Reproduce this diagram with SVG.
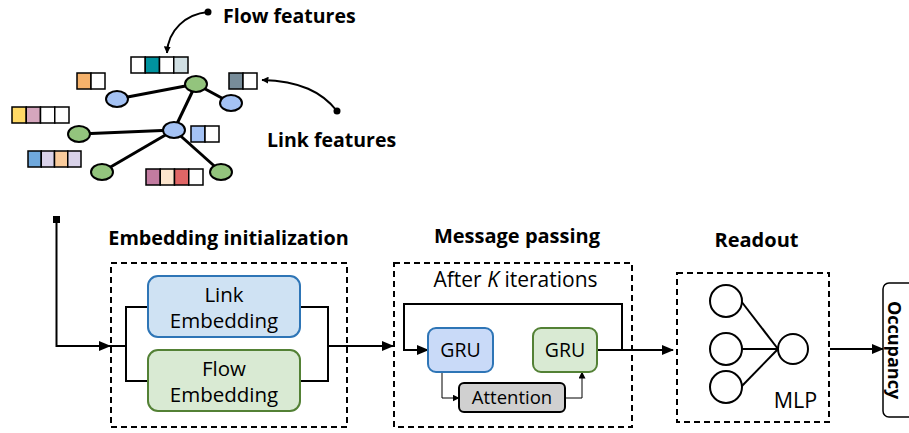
<svg xmlns="http://www.w3.org/2000/svg" width="909" height="433" viewBox="0 0 909 433">
  <style>
    .t { font-family: "Open Sans", "Liberation Sans", sans-serif; fill: #000; }
    .b { font-weight: bold; }
    .cell { stroke: #000; stroke-width: 1.5; }
    .edge { stroke: #000; stroke-width: 3; fill: none; }
    .ng { fill: #93c47d; stroke: #000; stroke-width: 2; }
    .nb { fill: #a4c2f4; stroke: #000; stroke-width: 2; }
    .wire { stroke: #000; stroke-width: 2; fill: none; }
    .thin { stroke: #000; stroke-width: 1; fill: none; }
    .dash { fill: none; stroke: #000; stroke-width: 2; stroke-dasharray: 6 4; }
    .circ { fill: #fff; stroke: #000; stroke-width: 2; }
  </style>
  <defs>
    <marker id="arr" markerWidth="12" markerHeight="10" refX="11" refY="5" orient="auto" markerUnits="userSpaceOnUse">
      <path d="M0,0 L12,5 L0,10 Z" fill="#000"/>
    </marker>
    <marker id="arrS" markerWidth="7" markerHeight="7" refX="6.5" refY="3.5" orient="auto" markerUnits="userSpaceOnUse">
      <path d="M0,0 L7,3.5 L0,7 Z" fill="#000"/>
    </marker>
  </defs>
  <rect width="909" height="433" fill="#fff"/>

  <!-- feature graph -->
  <g id="graph">
    <g id="graph-edges">
      <line class="edge" x1="196" y1="84" x2="117" y2="99"/>
      <line class="edge" x1="196" y1="84" x2="231" y2="103"/>
      <line class="edge" x1="196" y1="84" x2="174" y2="130"/>
      <line class="edge" x1="174" y1="130" x2="79" y2="134"/>
      <line class="edge" x1="174" y1="130" x2="102" y2="172"/>
      <line class="edge" x1="174" y1="130" x2="221" y2="172"/>
    </g>
    <ellipse class="ng" cx="196" cy="84" rx="11" ry="8"/>
    <ellipse class="nb" cx="117" cy="99" rx="11" ry="8"/>
    <ellipse class="nb" cx="231" cy="103" rx="11" ry="8"/>
    <ellipse class="nb" cx="174" cy="130" rx="11" ry="8"/>
    <ellipse class="ng" cx="79" cy="134" rx="11" ry="8"/>
    <ellipse class="ng" cx="102" cy="172" rx="11" ry="8"/>
    <ellipse class="ng" cx="221" cy="172" rx="11" ry="8"/>

    <!-- feature vectors -->
    <g id="vec-flow-top">
      <rect class="cell" x="131" y="57" width="14.25" height="16" fill="#fff"/>
      <rect class="cell" x="145.25" y="57" width="14.25" height="16" fill="#00939f"/>
      <rect class="cell" x="159.5" y="57" width="14.25" height="16" fill="#fff"/>
      <rect class="cell" x="173.75" y="57" width="14.25" height="16" fill="#d0dfe3"/>
    </g>
    <g id="vec-orange">
      <rect class="cell" x="77" y="73" width="14" height="16" fill="#f6b26b"/>
      <rect class="cell" x="91" y="73" width="14" height="16" fill="#fff"/>
    </g>
    <g id="vec-link-top">
      <rect class="cell" x="229" y="73" width="14" height="16" fill="#778c99"/>
      <rect class="cell" x="243" y="73" width="14" height="16" fill="#fff"/>
    </g>
    <g id="vec-yellow">
      <rect class="cell" x="12" y="107" width="14.25" height="16" fill="#ffd966"/>
      <rect class="cell" x="26.25" y="107" width="14.25" height="16" fill="#d5a6bd"/>
      <rect class="cell" x="40.5" y="107" width="14.25" height="16" fill="#fff"/>
      <rect class="cell" x="54.75" y="107" width="14.25" height="16" fill="#fff"/>
    </g>
    <g id="vec-blue">
      <rect class="cell" x="191" y="126" width="14" height="16" fill="#a4c2f4"/>
      <rect class="cell" x="205" y="126" width="14" height="16" fill="#fff"/>
    </g>
    <g id="vec-lavender">
      <rect class="cell" x="28" y="151" width="13.25" height="16" fill="#6fa8dc"/>
      <rect class="cell" x="41.25" y="151" width="13.25" height="16" fill="#d9d2e9"/>
      <rect class="cell" x="54.5" y="151" width="13.25" height="16" fill="#f9cb9c"/>
      <rect class="cell" x="67.75" y="151" width="13.25" height="16" fill="#d9d2e9"/>
    </g>
    <g id="vec-red">
      <rect class="cell" x="146" y="169" width="14.25" height="16" fill="#c27ba0"/>
      <rect class="cell" x="160.25" y="169" width="14.25" height="16" fill="#fce5cd"/>
      <rect class="cell" x="174.5" y="169" width="14.25" height="16" fill="#e06666"/>
      <rect class="cell" x="188.75" y="169" width="14.25" height="16" fill="#fff"/>
    </g>
  </g>

  <!-- callouts -->
  <g id="flow-features-label">
    <circle cx="208" cy="12" r="3.5" fill="#000"/>
    <path class="wire" d="M208,12 C186,14 168,30 167,53" marker-end="url(#arrS)"/>
    <text class="t b" x="223" y="23" font-size="19.5">Flow features</text>
  </g>
  <g id="link-features-label">
    <circle cx="337" cy="111" r="3.5" fill="#000"/>
    <path class="wire" d="M337,111 C322,92 300,81 262,80" marker-end="url(#arrS)"/>
    <text class="t b" x="267" y="147" font-size="19.5">Link features</text>
  </g>

  <!-- pipeline connectors -->
  <g id="connectors">
    <rect x="53" y="216" width="7" height="7" fill="#000"/>
    <path class="wire" d="M56.5,220 V346 H110" marker-end="url(#arr)"/>
    <path class="wire" d="M110,346 H126"/>
    <path class="wire" d="M148,307 H126 V381 H148"/>
    <path class="wire" d="M300,307 H328 V381 H300"/>
    <path class="wire" d="M328,346 H393" marker-end="url(#arr)"/>
    <path class="wire" d="M622,350 V304 H404 V350 H428" marker-end="url(#arr)"/>
    <path class="thin" d="M442,372 V398 H459" marker-end="url(#arrS)"/>
    <path class="thin" d="M565,398 H582 V372" marker-end="url(#arrS)"/>
    <path class="wire" d="M597,350 H673" marker-end="url(#arr)"/>
    <path class="wire" d="M830,349 H883" marker-end="url(#arr)"/>
  </g>

  <!-- embedding initialization -->
  <g id="embedding-init">
    <text class="t b" x="228.5" y="245" font-size="19.8" text-anchor="middle">Embedding initialization</text>
    <rect class="dash" x="111" y="263" width="236" height="164"/>
  </g>
  <g id="link-embedding">
    <rect x="148" y="276" width="152" height="61" rx="10" fill="#cfe2f3" stroke="#2e75b6" stroke-width="2"/>
    <text class="t" x="224" y="302" font-size="20.5" text-anchor="middle">Link</text>
    <text class="t" x="224" y="328" font-size="20.5" text-anchor="middle">Embedding</text>
  </g>
  <g id="flow-embedding">
    <rect x="148" y="350" width="152" height="61" rx="10" fill="#d9ead3" stroke="#538135" stroke-width="2"/>
    <text class="t" x="224" y="376" font-size="20.5" text-anchor="middle">Flow</text>
    <text class="t" x="224" y="402" font-size="20.5" text-anchor="middle">Embedding</text>
  </g>

  <!-- message passing -->
  <g id="message-passing">
    <text class="t b" x="517" y="243" font-size="20" text-anchor="middle">Message passing</text>
    <rect class="dash" x="394" y="263" width="238" height="164"/>
    <text class="t" x="515.5" y="287" font-size="21" text-anchor="middle">After <tspan font-style="italic">K</tspan> iterations</text>
  </g>
  <g id="gru-link">
    <rect x="428" y="328" width="65" height="44" rx="8" fill="#c9daf8" stroke="#2e75b6" stroke-width="2"/>
    <text class="t" x="460.5" y="357" font-size="19.5" text-anchor="middle">GRU</text>
  </g>
  <g id="gru-flow">
    <rect x="533" y="328" width="64" height="44" rx="8" fill="#d9ead3" stroke="#538135" stroke-width="2"/>
    <text class="t" x="565" y="357" font-size="19.5" text-anchor="middle">GRU</text>
  </g>
  <g id="attention">
    <rect x="459" y="383" width="106" height="29" rx="5" fill="#d0d0d0" stroke="#000" stroke-width="2"/>
    <text class="t" x="512" y="404" font-size="18.5" text-anchor="middle">Attention</text>
  </g>

  <!-- readout -->
  <g id="readout">
    <text class="t b" x="756.5" y="247" font-size="20" text-anchor="middle">Readout</text>
    <rect class="dash" x="677" y="273" width="152" height="149"/>
    <line class="wire" x1="741" y1="301" x2="778" y2="349"/>
    <line class="wire" x1="742" y1="349" x2="778" y2="349"/>
    <line class="wire" x1="741" y1="387" x2="778" y2="349"/>
    <circle class="circ" cx="726" cy="301" r="16"/>
    <circle class="circ" cx="726" cy="349" r="16"/>
    <circle class="circ" cx="726" cy="387" r="16"/>
    <circle class="circ" cx="793" cy="349" r="15"/>
    <text class="t" x="795.5" y="408" font-size="21.5" text-anchor="middle">MLP</text>
  </g>

  <!-- output -->
  <g id="occupancy">
    <rect x="883" y="283" width="40" height="134" rx="6" fill="#fff" stroke="#000" stroke-width="1.5"/>
    <text class="t b" transform="translate(888,350) rotate(90)" font-size="18" text-anchor="middle">Occupancy</text>
  </g>
</svg>
